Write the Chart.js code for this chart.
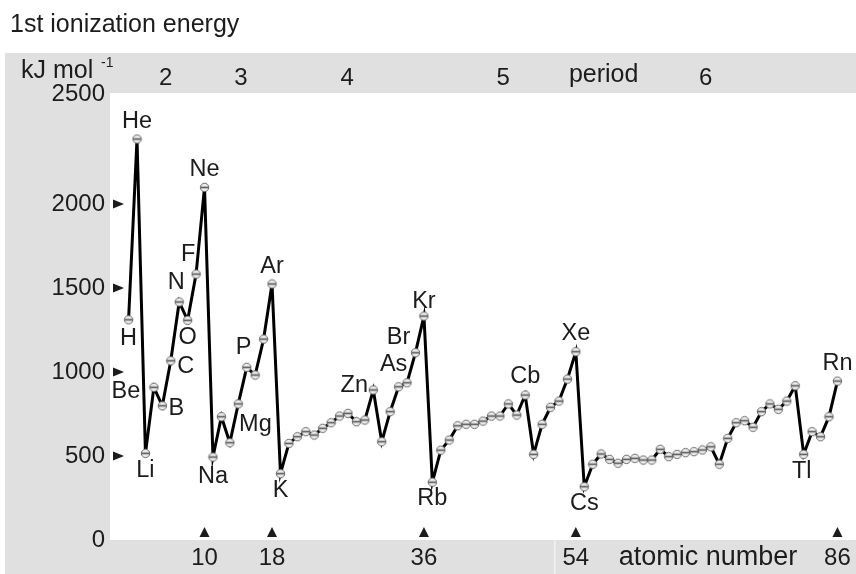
<!DOCTYPE html>
<html>
<head>
<meta charset="utf-8">
<script src="https://cdn.jsdelivr.net/npm/chart.js@4.4.0/dist/chart.umd.min.js"></script>
<style>
  html, body { margin: 0; padding: 0; background: #fff; }
  #wrap { width: 856px; height: 574px; position: relative; }
</style>
</head>
<body>
<div id="wrap"><canvas id="ieCanvas"></canvas></div>
<script>
// elements in plot order (At is not plotted in the original)
const symbols = ["H","He","Li","Be","B","C","N","O","F","Ne",
  "Na","Mg","Al","Si","P","S","Cl","Ar",
  "K","Ca","Sc","Ti","V","Cr","Mn","Fe","Co","Ni","Cu","Zn","Ga","Ge","As","Se","Br","Kr",
  "Rb","Sr","Y","Zr","Nb","Mo","Tc","Ru","Rh","Pd","Ag","Cd","In","Sn","Sb","Te","I","Xe",
  "Cs","Ba","La","Ce","Pr","Nd","Pm","Sm","Eu","Gd","Tb","Dy","Ho","Er","Tm","Yb","Lu",
  "Hf","Ta","W","Re","Os","Ir","Pt","Au","Hg","Tl","Pb","Bi","Po","Rn"];
const energies = [1311, 2387, 516, 909, 799, 1067, 1417, 1308, 1583, 2099,
  494, 734, 579, 810, 1028, 982, 1196, 1524,
  395, 575, 615, 645, 625, 665, 698, 738, 754, 704, 714, 893, 585, 764, 912, 936, 1115, 1333,
  344, 535, 595, 680, 689, 689, 708, 738, 738, 810, 744, 863, 510, 689, 790, 827, 958, 1121,
  317, 451, 512, 480, 457, 480, 486, 476, 476, 540, 496, 510, 520, 526, 536, 555, 451,
  605, 698, 710, 671, 764, 810, 778, 827, 918, 510, 645, 615, 734, 946];
const xTickPos = [10, 18, 36, 54, 85];
const xTickLabels = ["10", "18", "36", "54", "86"];
const yTicks = [0, 500, 1000, 1500, 2000];
const yTopLabel = "2500";
const periodNames = ["2", "3", "4", "5", "6"];
// label text shown per element symbol (Cd is printed as "Cb" in the original)
const labelText = {He:"He", H:"H", Li:"Li", Be:"Be", B:"B", C:"C", N:"N", O:"O", F:"F", Ne:"Ne",
  Na:"Na", Mg:"Mg", P:"P", Ar:"Ar", K:"K", Zn:"Zn", As:"As", Br:"Br", Kr:"Kr", Rb:"Rb",
  Cd:"Cb", Xe:"Xe", Cs:"Cs", Tl:"Tl", Rn:"Rn"};

const FONT = '"Liberation Sans", Arial, Helvetica, sans-serif';
const INK = '#1c1c1c';

// label offsets from the point, in px
const labelOffset = {He:[0,-18], H:[0,19], Li:[0,17], Be:[-28,4], B:[14,3], C:[15,6], N:[-3,-19],
  O:[0,17], F:[-8,-20], Ne:[0,-18], Na:[0,19], Mg:[34,8], P:[-3,-20], Ar:[0,-17], K:[0,17],
  Zn:[-19,-4], As:[-5,-22], Br:[-17,-15], Kr:[0,-15], Rb:[0,16], Cd:[0,-19], Xe:[0,-18],
  Cs:[0,17], Tl:[-2,17], Rn:[0,-18]};
const periodPos = [5.4, 14.3, 26.9, 45.4, 69.4];

// point marker: small grey bead with a dark middle stroke
const bead = document.createElement('canvas');
bead.width = 11; bead.height = 11;
(function () {
  const c = bead.getContext('2d');
  c.beginPath(); c.arc(5.5, 5.5, 4.2, 0, Math.PI * 2);
  c.fillStyle = '#ececec'; c.fill();
  c.lineWidth = 1; c.strokeStyle = '#6a6a6a'; c.stroke();
  c.beginPath(); c.moveTo(1.5, 5.5); c.lineTo(9.5, 5.5);
  c.lineWidth = 1.6; c.strokeStyle = '#555'; c.stroke();
})();

const decor = {
  id: 'decor',
  beforeDraw(chart) {
    const {ctx, chartArea: a, width, height} = chart;
    ctx.save();
    ctx.fillStyle = '#fff';
    ctx.fillRect(0, 0, width, height);
    ctx.fillStyle = '#e0e0e0';
    ctx.fillRect(5, 53, width - 5, a.top - 53);
    ctx.fillRect(5, 53, a.left - 5, height - 53);
    ctx.fillRect(5, a.bottom, width - 5, height - a.bottom);
    ctx.fillStyle = '#f2f2f2';
    ctx.fillRect(554, a.bottom, 1.5, height - a.bottom);

    // title
    ctx.fillStyle = INK;
    ctx.font = '25px ' + FONT;
    ctx.textAlign = 'left';
    ctx.textBaseline = 'alphabetic';
    ctx.fillText('1st ionization energy', 10, 32);

    // unit
    ctx.font = '25px ' + FONT;
    ctx.fillText('kJ mol', 21, 78);
    ctx.font = '14px ' + FONT;
    ctx.fillText('-1', 101, 67);

    const xs = chart.scales.x, ys = chart.scales.y;
    // period numbers
    ctx.font = '24px ' + FONT;
    ctx.textAlign = 'center';
    ctx.textBaseline = 'middle';
    periodNames.forEach((p, i) => ctx.fillText(p, xs.getPixelForValue(periodPos[i]), 78));
    ctx.font = '25px ' + FONT;
    ctx.fillText('period', xs.getPixelForValue(57.3), 75);

    // y tick labels and arrows
    ctx.font = '24px ' + FONT;
    ctx.textAlign = 'right';
    yTicks.forEach(v => {
      const y = ys.getPixelForValue(v);
      ctx.fillText(String(v), 105, y);
      if (v > 0) {
        ctx.beginPath();
        ctx.moveTo(113, y - 4.5); ctx.lineTo(124, y); ctx.lineTo(113, y + 4.5);
        ctx.closePath(); ctx.fill();
      }
    });
    ctx.fillText(yTopLabel, 105, a.top + 1);

    // x tick labels and arrows
    ctx.textAlign = 'center';
    xTickPos.forEach((v, i) => {
      const x = xs.getPixelForValue(v);
      ctx.fillText(xTickLabels[i], x, 558);
      ctx.beginPath();
      ctx.moveTo(x - 5, 537); ctx.lineTo(x, 527); ctx.lineTo(x + 5, 537);
      ctx.closePath(); ctx.fill();
    });
    ctx.font = '27px ' + FONT;
    ctx.fillText('atomic number', 708, 558);
    ctx.restore();
  },
  afterDatasetsDraw(chart) {
    const {ctx} = chart;
    const xs = chart.scales.x, ys = chart.scales.y;
    ctx.save();
    ctx.fillStyle = INK;
    ctx.font = '23.5px ' + FONT;
    ctx.textAlign = 'center';
    ctx.textBaseline = 'middle';
    symbols.forEach((s, i) => {
      if (!labelText[s]) return;
      const off = labelOffset[s];
      const x = xs.getPixelForValue(i + 1) + off[0];
      const y = ys.getPixelForValue(energies[i]) + off[1];
      ctx.fillText(labelText[s], x, y);
    });
    ctx.restore();
  }
};

new Chart(document.getElementById('ieCanvas'), {
  type: 'line',
  data: {
    datasets: [{
      data: energies.map((e, i) => ({x: i + 1, y: e})),
      borderColor: '#000',
      borderWidth: 3,
      tension: 0,
      pointStyle: bead,
      pointRadius: 5,
      pointHoverRadius: 5
    }]
  },
  options: {
    responsive: true,
    maintainAspectRatio: false,
    animation: false,
    events: [],
    layout: { autoPadding: false, padding: { left: 110, top: 93, right: 0, bottom: 34 } },
    plugins: { legend: { display: false }, tooltip: { enabled: false }, title: { display: false } },
    scales: {
      x: { type: 'linear', min: -1.2, max: 87.2, display: false },
      y: { min: 0, max: 2661, display: false }
    }
  },
  plugins: [decor]
});
</script>
</body>
</html>
